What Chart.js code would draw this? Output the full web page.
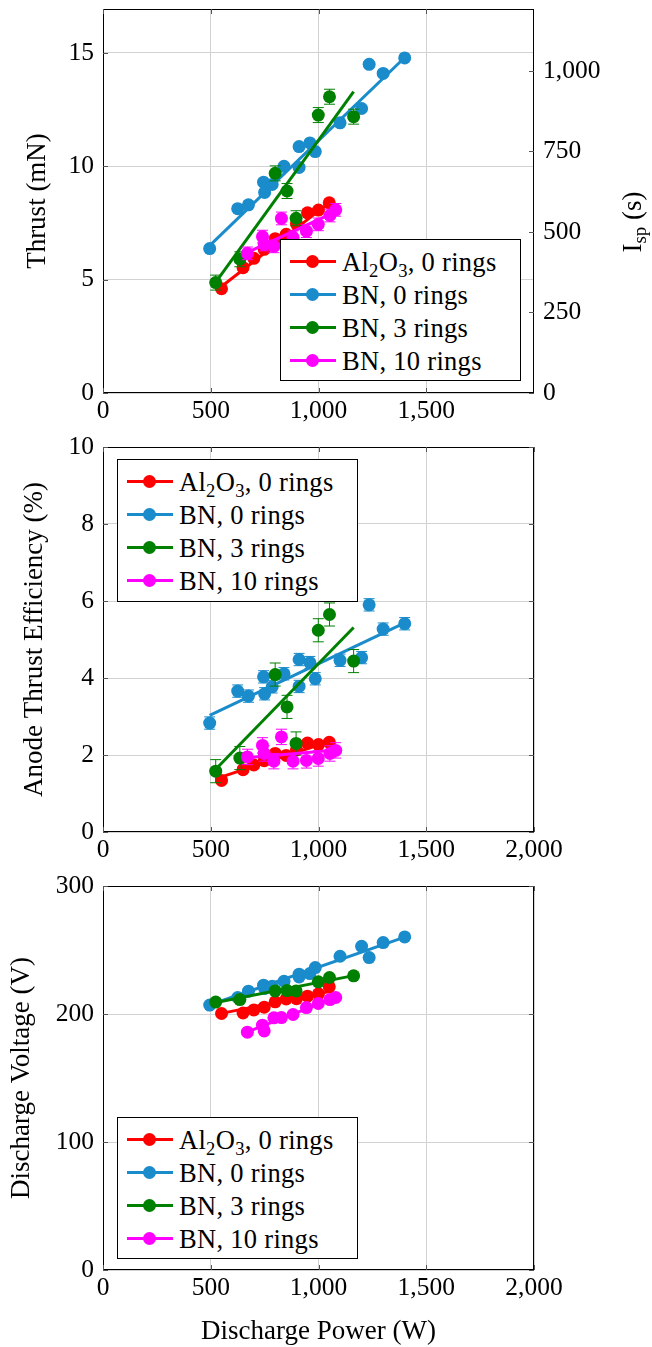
<!DOCTYPE html>
<html>
<head>
<meta charset="utf-8">
<script src="https://cdn.jsdelivr.net/npm/chart.js@4.4.1/dist/chart.umd.min.js"></script>
<style>
  body { margin: 0; background: #fff; width: 652px; height: 1347px; position: relative; overflow: hidden; font-family: "Liberation Serif", serif; }
  .panel { position: absolute; left: 0; }
  .legend { position: absolute; border: 1px solid #000; background: #fff; box-sizing: border-box; font-size: 26.5px; color: #000; }
  .row { position: absolute; left: 0; width: 100%; height: 30px; }
  .sw { position: absolute; left: 9px; top: 13.5px; width: 46px; height: 3px; }
  .sw i { position: absolute; left: 16px; top: -5px; width: 13px; height: 13px; border-radius: 50%; }
  .lbl { position: absolute; left: 61px; top: 0; line-height: 30px; white-space: nowrap; letter-spacing: 0.3px; }
  .lbl sub { font-size: 70%; vertical-align: -0.3em; line-height: 0; }
</style>
</head>
<body>
<div class="panel" style="top:0"><canvas id="thrust" width="652" height="430"></canvas></div>
<div class="panel" style="top:430px"><canvas id="eff" width="652" height="440"></canvas></div>
<div class="panel" style="top:870px"><canvas id="volt" width="652" height="477"></canvas></div>
<div class="legend" id="leg1" style="left:280px;top:239px;width:241px;height:142px"></div>
<div class="legend" id="leg2" style="left:117px;top:459px;width:241px;height:143px"></div>
<div class="legend" id="leg3" style="left:117px;top:1117px;width:241px;height:142px"></div>
<script>
// tick values
const powerTicks = [0, 500, 1000, 1500, 2000];
const thrustTicks = [0, 5, 10, 15];
const ispTicks = [0, 250, 500, 750, 1000];
const effTicks = [0, 2, 4, 6, 8, 10];
const voltTicks = [0, 100, 200, 300];

const seriesLabels = ["Al<sub>2</sub>O<sub>3</sub>, 0 rings", "BN, 0 rings", "BN, 3 rings", "BN, 10 rings"];
const colors = ["#ff0000", "#1a8bcb", "#008000", "#ff00ff"];

// Al2O3, 0 rings
const alPower = [550, 650, 700, 748, 799, 850, 898, 949, 1000, 1050];
const alThrust = [4.6, 5.53, 5.94, 6.34, 6.81, 7.0, 7.45, 7.95, 8.07, 8.39];
const alEff = [1.34, 1.62, 1.74, 1.85, 2.04, 1.99, 2.13, 2.31, 2.27, 2.33];
const alVolt = [200.4, 200.8, 203.2, 205.3, 209.5, 211.8, 212.0, 213.9, 215.8, 221.2];

// BN, 0 rings
const bnPower = [495, 625, 675, 745, 750, 785, 840, 910, 910, 960, 985, 1100, 1200, 1235, 1300, 1400];
const bnThrust = [6.37, 8.13, 8.3, 9.3, 8.85, 9.2, 10.0, 9.95, 10.87, 11.03, 10.65, 11.92, 12.55, 14.5, 14.1, 14.78];
const bnEff = [2.83, 3.66, 3.53, 4.03, 3.59, 3.77, 4.11, 3.78, 4.48, 4.40, 3.98, 4.46, 4.53, 5.90, 5.27, 5.41];
const bnVolt = [207, 212.9, 217.8, 222.5, 220, 221.7, 225.6, 229, 231.1, 231.6, 236.3, 245.1, 252.9, 244.1, 255.8, 260.2];

// BN, 3 rings
const b3Power = [523, 635, 799, 854, 896, 999, 1051, 1163];
const b3Thrust = [4.87, 5.9, 9.69, 8.91, 7.71, 12.26, 13.07, 12.19];
const b3Eff = [1.58, 1.92, 4.09, 3.25, 2.30, 5.24, 5.65, 4.44];
const b3Volt = [209.3, 211.3, 218.0, 218.3, 218.0, 225.1, 228.5, 229.8];

// BN, 10 rings
const b10Power = [670, 740, 748, 793, 828, 882, 944, 999, 1053, 1080];
const b10Thrust = [6.16, 6.9, 6.55, 6.47, 7.7, 6.87, 7.14, 7.44, 7.83, 8.08];
const b10Eff = [1.95, 2.25, 2.04, 1.84, 2.47, 1.84, 1.86, 1.91, 2.04, 2.12];
const b10Volt = [185.8, 191.3, 186.8, 197.0, 197.2, 199.6, 205.0, 208.2, 211.3, 212.9];

// linear fit end points [power, value]
const alThrustFit = [[550, 4.7], [1050, 8.4]];
const bnThrustFit = [[495, 6.5], [1400, 14.8]];
const b3ThrustFit = [[520, 4.85], [1163, 13.3]];
const b10ThrustFit = [[670, 6.2], [1080, 8.0]];
const alEffFit = [[550, 1.43], [1050, 2.35]];
const bnEffFit = [[495, 3.03], [1400, 5.43]];
const b3EffFit = [[523, 1.63], [1163, 5.31]];
const b10EffFit = [[670, 1.93], [1080, 2.13]];
const alVoltFit = [[550, 200.5], [1050, 217.5]];
const bnVoltFit = [[495, 207], [1400, 260]];
const b3VoltFit = [[523, 209], [1163, 230]];
const b10VoltFit = [[670, 186], [1080, 213]];

// error bar half widths per series
const thrustErr = [0.1, 0.1, 0.33, 0.28];
const effErr = [0.08, 0.16, 0.3, 0.2];
const voltErr = [0, 0, 0, 0];

Chart.defaults.font.family = '"Liberation Serif", serif';
Chart.defaults.font.size = 25.5;
Chart.defaults.color = "#000";

const fmt = (v) => Number(v).toLocaleString("en-US");
const gridColor = "#d2d2d2";
const titleFont = { size: 27, lineHeight: 1 };

const framePlugin = {
  id: "frame",
  beforeDatasetDraw(chart, args) {
    const ds = chart.data.datasets[args.index];
    if (!ds.errorBar) return;
    const { ctx } = chart;
    const xs = chart.scales.x, ys = chart.scales.y;
    ctx.save();
    ctx.strokeStyle = ds.borderColor;
    ctx.lineWidth = 1;
    ds.data.forEach((p) => {
      const px = xs.getPixelForValue(p.x);
      const top = ys.getPixelForValue(p.y + ds.errorBar);
      const bot = ys.getPixelForValue(p.y - ds.errorBar);
      ctx.beginPath();
      ctx.moveTo(px, top); ctx.lineTo(px, bot);
      ctx.moveTo(px - 5.5, top); ctx.lineTo(px + 5.5, top);
      ctx.moveTo(px - 5.5, bot); ctx.lineTo(px + 5.5, bot);
      ctx.stroke();
    });
    ctx.restore();
  },
  afterDraw(chart, args, opts) {
    const { ctx, chartArea: a } = chart;
    ctx.save();
    ctx.strokeStyle = "#000";
    ctx.lineWidth = 1;
    ctx.strokeRect(a.left + 0.5, a.top + 0.5, a.right - a.left - 1, a.bottom - a.top - 1);
    ctx.strokeStyle = "#555";
    ctx.beginPath();
    chart.scales.x.ticks.forEach((t) => {
      const px = Math.round(chart.scales.x.getPixelForValue(t.value)) + 0.5;
      ctx.moveTo(px, a.bottom); ctx.lineTo(px, a.bottom - 5);
      ctx.moveTo(px, a.top); ctx.lineTo(px, a.top + 5);
    });
    chart.scales.y.ticks.forEach((t) => {
      const py = Math.round(chart.scales.y.getPixelForValue(t.value)) + 0.5;
      ctx.moveTo(a.left, py); ctx.lineTo(a.left + 5, py);
      if (!chart.scales.y1) { ctx.moveTo(a.right, py); ctx.lineTo(a.right - 5, py); }
    });
    if (chart.scales.y1) {
      chart.scales.y1.ticks.forEach((t) => {
        const py = Math.round(chart.scales.y1.getPixelForValue(t.value)) + 0.5;
        ctx.moveTo(a.right, py); ctx.lineTo(a.right - 5, py);
      });
    }
    ctx.stroke();
    if (opts && opts.isp) {
      // right axis title I_sp (s), read bottom to top
      ctx.translate(opts.isp.x, opts.isp.y);
      ctx.rotate(-Math.PI / 2);
      ctx.fillStyle = "#000";
      ctx.textBaseline = "alphabetic";
      const big = '27px "Liberation Serif", serif', small = '19px "Liberation Serif", serif';
      ctx.font = big; const w1 = ctx.measureText("I").width, w3 = ctx.measureText(" (s)").width;
      ctx.font = small; const w2 = ctx.measureText("sp").width;
      let x = -(w1 + w2 + w3) / 2;
      ctx.font = big; ctx.fillText("I", x, 9); x += w1;
      ctx.font = small; ctx.fillText("sp", x, 14); x += w2;
      ctx.font = big; ctx.fillText(" (s)", x, 9);
    }
    ctx.restore();
  }
};

function makePanel(id, cfg) {
  const datasets = [];
  cfg.series.forEach((s, i) => {
    datasets.push({
      type: "scatter",
      data: s.x.map((x, j) => ({ x, y: s.y[j] })),
      backgroundColor: colors[i],
      borderColor: colors[i],
      borderWidth: 0,
      pointRadius: 6.5,
      pointHoverRadius: 6.5,
      errorBar: s.err,
      order: 8 - 2 * i
    });
    datasets.push({
      type: "line",
      data: s.fit.map((p) => ({ x: p[0], y: p[1] })),
      borderColor: colors[i],
      borderWidth: 3,
      pointRadius: 0,
      fill: false,
      order: 7 - 2 * i
    });
  });

  const scales = {
    x: {
      type: "linear", min: 0, max: 2000,
      afterBuildTicks: (s) => { s.ticks = cfg.xTicks.map((v) => ({ value: v })); },
      afterFit: (s) => { s.height = cfg.xHeight; s.paddingLeft = 0; s.paddingRight = 0; },
      ticks: { callback: fmt, padding: 3, maxRotation: 0, autoSkip: false },
      grid: { color: gridColor, drawTicks: false },
      border: { display: false },
      title: cfg.xTitle ? { display: true, text: cfg.xTitle, font: titleFont, padding: { bottom: 2 } } : { display: false }
    },
    y: {
      type: "linear", min: 0, max: cfg.yMax,
      afterBuildTicks: (s) => { s.ticks = cfg.yTicks.map((v) => ({ value: v })); },
      afterFit: (s) => { s.width = 103; s.paddingTop = 0; s.paddingBottom = 0; },
      ticks: { callback: fmt, padding: 9 },
      grid: { color: gridColor, drawTicks: false },
      border: { display: false },
      title: { display: true, text: cfg.yTitle, font: titleFont, padding: { top: cfg.yTitlePad } }
    }
  };
  if (cfg.rightTicks) {
    scales.y1 = {
      type: "linear", position: "right", min: 0, max: cfg.rightMax,
      afterBuildTicks: (s) => { s.ticks = cfg.rightTicks.map((v) => ({ value: v })); },
      afterFit: (s) => { s.width = 118; s.paddingTop = 0; s.paddingBottom = 0; },
      ticks: { callback: fmt, padding: 9 },
      grid: { display: false, drawTicks: false },
      border: { display: false }
    };
  }

  new Chart(document.getElementById(id), {
    type: "scatter",
    data: { datasets },
    options: {
      responsive: false,
      animation: false,
      events: [],
      layout: { padding: { top: cfg.top, right: cfg.rightTicks ? 0 : 118, left: 0, bottom: 0 } },
      plugins: { legend: { display: false }, tooltip: { enabled: false }, frame: { isp: cfg.isp } },
      scales
    },
    plugins: [framePlugin]
  });
}

function buildLegend(elId) {
  const box = document.getElementById(elId);
  seriesLabels.forEach((html, i) => {
    const row = document.createElement("div");
    row.className = "row";
    row.style.top = (21.5 + i * 33 - 15) + "px";
    row.innerHTML = `<span class="sw" style="background:${colors[i]}"><i style="background:${colors[i]}"></i></span><span class="lbl">${html}</span>`;
    box.append(row);
  });
}

makePanel("thrust", {
  top: 9, xHeight: 37, yMax: 16.94, xTicks: [0, 500, 1000, 1500], yTicks: thrustTicks,
  yTitle: "Thrust (mN)", yTitlePad: 24,
  rightTicks: ispTicks, rightMax: 1192, isp: { x: 632, y: 222 },
  series: [
    { x: alPower, y: alThrust, fit: alThrustFit, err: thrustErr[0] },
    { x: bnPower, y: bnThrust, fit: bnThrustFit, err: thrustErr[1] },
    { x: b3Power, y: b3Thrust, fit: b3ThrustFit, err: thrustErr[2] },
    { x: b10Power, y: b10Thrust, fit: b10ThrustFit, err: thrustErr[3] }
  ]
});

makePanel("eff", {
  top: 17, xHeight: 38, yMax: 10, xTicks: powerTicks, yTicks: effTicks,
  yTitle: "Anode Thrust Efficiency (%)", yTitlePad: 21,
  series: [
    { x: alPower, y: alEff, fit: alEffFit, err: effErr[0] },
    { x: bnPower, y: bnEff, fit: bnEffFit, err: effErr[1] },
    { x: b3Power, y: b3Eff, fit: b3EffFit, err: effErr[2] },
    { x: b10Power, y: b10Eff, fit: b10EffFit, err: effErr[3] }
  ]
});

makePanel("volt", {
  top: 16, xHeight: 77, yMax: 300, xTicks: powerTicks, yTicks: voltTicks,
  yTitle: "Discharge Voltage (V)", yTitlePad: 8, xTitle: "Discharge Power (W)",
  series: [
    { x: alPower, y: alVolt, fit: alVoltFit, err: voltErr[0] },
    { x: bnPower, y: bnVolt, fit: bnVoltFit, err: voltErr[1] },
    { x: b3Power, y: b3Volt, fit: b3VoltFit, err: voltErr[2] },
    { x: b10Power, y: b10Volt, fit: b10VoltFit, err: voltErr[3] }
  ]
});

buildLegend("leg1");
buildLegend("leg2");
buildLegend("leg3");
</script>
</body>
</html>
